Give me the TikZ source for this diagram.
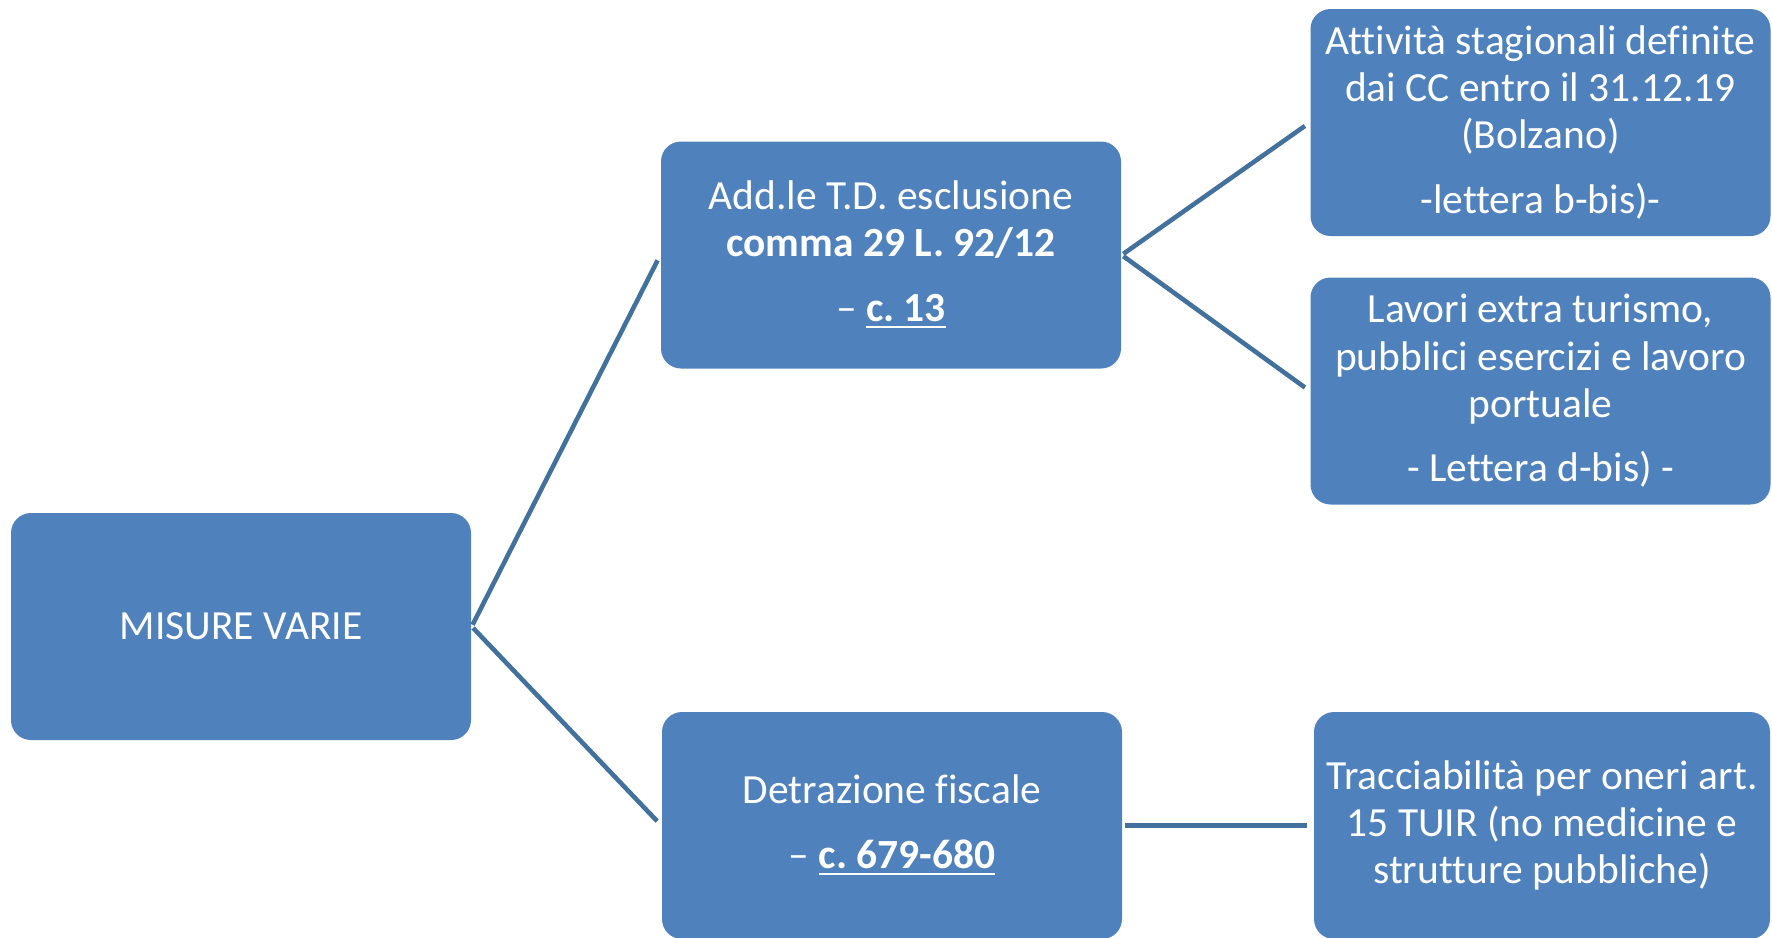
\documentclass[tikz,border=0pt]{standalone}
\usepackage{fontspec}
\setmainfont[Ligatures=NoCommon]{Carlito}
\definecolor{boxblue}{HTML}{4F81BD}
\definecolor{linkblue}{HTML}{41719C}
\frenchspacing

\begin{document}
\begin{tikzpicture}[
    voce/.style={rectangle,rounded corners=0.2cm,fill=boxblue,text=white,
      minimum width=4.6cm,minimum height=2.27cm,align=center,inner sep=0pt,
      font=\fontsize{11.8pt}{13.4pt}\selectfont},
    ramo/.style={draw=linkblue,line width=1.3pt,shorten <=0.2mm,shorten >=0.6mm}]
  \useasboundingbox (0,0) rectangle (17.72,-9.37);

  \node[voce] (misure) at (2.41,-6.265) {MISURE VARIE};

  \node[voce] (addle) at (8.91,-2.55) {Add.le T.D. esclusione\\
    \textbf{comma 29 L. 92/12}\\[5pt] – \underline{\textbf{c. 13}}};
  \node[voce] (detr) at (8.92,-8.255) {Detrazione fiscale\\[5pt]
    – \underline{\textbf{c. 679-680}}};

  \node[voce] (stag) at (15.405,-1.225) {Attività stagionali definite\\
    dai CC entro il 31.12.19\\ (Bolzano)\\[5pt] -lettera b-bis)-};
  \node[voce] (lavori) at (15.405,-3.91) {Lavori extra turismo,\\
    pubblici esercizi e lavoro\\ portuale\\[5pt] - Lettera d-bis) -};
  \node[voce,minimum width=4.56cm] (tracc) at (15.42,-8.255) {Tracciabilità per oneri art.\\
    15 TUIR (no medicine e\\ strutture pubbliche)};

  \draw[ramo] (misure.east) -- (addle.west);
  \draw[ramo] (misure.east) -- (detr.west);
  \draw[ramo] (addle.east) -- (stag.west);
  \draw[ramo] (addle.east) -- (lavori.west);
  \draw[ramo] (detr.east) -- (tracc.west);
\end{tikzpicture}
\end{document}
